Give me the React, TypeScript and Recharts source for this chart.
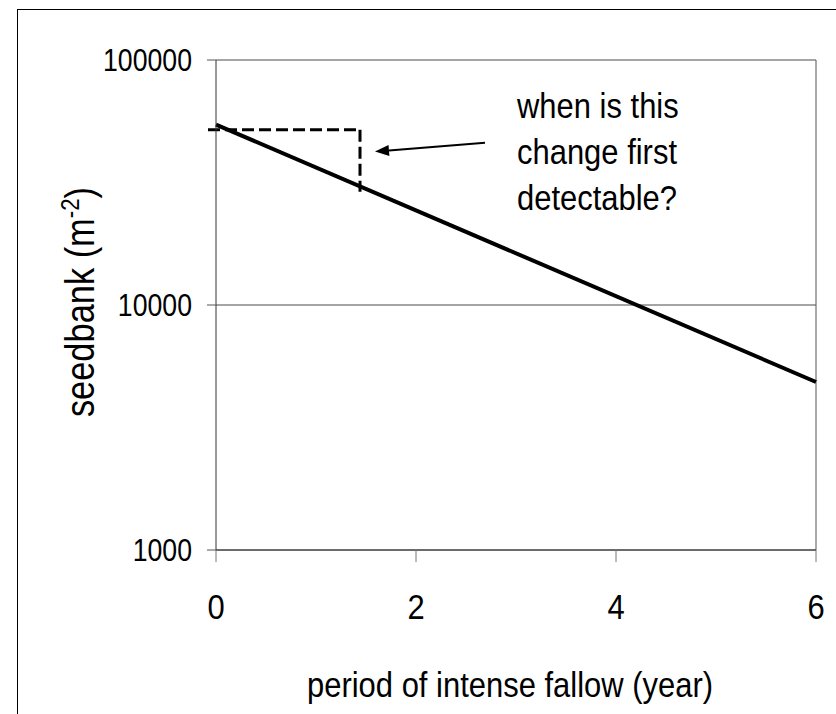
import React from "react";
import { LineChart, Line, XAxis, YAxis, CartesianGrid, ReferenceLine } from "recharts";

const years = [0, 6];
const seedbank = [54500, 4850];
const xTicks = [0, 2, 4, 6];
const yTicks = [1000, 10000, 100000];
const noteLines = ["when is this", "change first", "detectable?"];

// dashed guide: starting level carried across to the detection year, then down
const boxStartYear = -0.08;
const boxYear = 1.44;
const boxLevel = 51900;
const boxBottom = 29000;

// arrow from the note to the dashed guide
const arrowFromYear = 2.69;
const arrowFromValue = 45900;
const arrowToYear = 1.59;
const arrowToValue = 42300;

const data = years.map((x, i) => ({ x, y: seedbank[i] }));

const FONT = '"Liberation Sans", Arial, sans-serif';
// the original lettering is a horizontally squeezed Arial
const SQUEEZE = 0.86;

function Squeezed({
  x,
  y,
  size,
  anchor = "start",
  dy,
  rotate = 0,
  children,
}: {
  x: number;
  y: number;
  size: number;
  anchor?: string;
  dy?: string;
  rotate?: number;
  children: React.ReactNode;
}) {
  const rot = rotate ? ` rotate(${rotate})` : "";
  return (
    <text
      transform={`translate(${x},${y})${rot} scale(${SQUEEZE},1)`}
      textAnchor={anchor}
      dy={dy}
      fontSize={size}
      fontFamily={FONT}
      fill="#000"
    >
      {children}
    </text>
  );
}

function XTick(props: any) {
  const { x, y, payload } = props;
  return (
    <Squeezed x={x} y={y} size={36} anchor="middle" dy="0.71em">
      {payload.value}
    </Squeezed>
  );
}

function YTick(props: any) {
  const { x, y, payload } = props;
  return (
    <Squeezed x={x} y={y} size={31} anchor="end" dy="0.355em">
      {payload.value}
    </Squeezed>
  );
}

function Arrow(p: any) {
  const { x1, y1, x2, y2 } = p;
  const ang = Math.atan2(y2 - y1, x2 - x1);
  const len = 14;
  const half = 5.5;
  const bx = x2 - len * Math.cos(ang);
  const by = y2 - len * Math.sin(ang);
  const nx = -Math.sin(ang) * half;
  const ny = Math.cos(ang) * half;
  return (
    <g>
      <line x1={x1} y1={y1} x2={bx} y2={by} stroke="#000" strokeWidth={2} />
      <polygon points={`${x2},${y2} ${bx + nx},${by + ny} ${bx - nx},${by - ny}`} fill="#000" />
    </g>
  );
}

function YTitle() {
  return (
    <Squeezed x={94} y={302} size={40} anchor="middle" rotate={-90}>
      seedbank (m
      <tspan dy={-15} fontSize={26}>-2</tspan>
      <tspan dy={15}>)</tspan>
    </Squeezed>
  );
}

function XTitle(props: any) {
  const vb = props.viewBox || {};
  return (
    <Squeezed x={vb.x + vb.width / 2 - 6} y={697} size={36} anchor="middle">
      period of intense fallow (year)
    </Squeezed>
  );
}

export default function App() {
  return (
    <div
      style={{
        position: "absolute",
        left: 0,
        top: 0,
        width: 836,
        height: 714,
        overflow: "hidden",
        background: "#fff",
      }}
    >
      <div
        style={{
          position: "absolute",
          left: 17,
          top: 9,
          width: 900,
          height: 800,
          borderLeft: "1.5px solid #000",
          borderTop: "1.5px solid #000",
        }}
      />
      <LineChart
        width={836}
        height={714}
        data={data}
        margin={{ top: 60, right: 20, bottom: 0, left: 0 }}
        style={{ position: "absolute", left: 0, top: 0 }}
      >
        <CartesianGrid horizontal vertical={false} stroke="#4a4a4a" strokeWidth={1} />
        <XAxis
          dataKey="x"
          type="number"
          domain={[0, 6]}
          ticks={xTicks}
          height={164}
          tickSize={12}
          tickMargin={31}
          axisLine={{ stroke: "#333" }}
          tickLine={{ stroke: "#777" }}
          tick={<XTick />}
          label={<XTitle />}
        />
        <YAxis
          dataKey="y"
          type="number"
          scale="log"
          domain={[1000, 100000]}
          ticks={yTicks}
          allowDataOverflow
          width={216}
          tickSize={9}
          tickMargin={15}
          axisLine={{ stroke: "#333" }}
          tickLine={{ stroke: "#555" }}
          tick={<YTick />}
          label={<YTitle />}
        />
        <ReferenceLine x={6} stroke="#555" />
        <ReferenceLine
          segment={[
            { x: boxStartYear, y: boxLevel },
            { x: boxYear, y: boxLevel },
          ]}
          ifOverflow="visible"
          stroke="#000"
          strokeWidth={3}
          strokeDasharray="12 5"
        />
        <ReferenceLine
          segment={[
            { x: boxYear, y: boxLevel },
            { x: boxYear, y: boxBottom },
          ]}
          ifOverflow="visible"
          stroke="#000"
          strokeWidth={3}
          strokeDasharray="12 5"
        />
        <ReferenceLine
          segment={[
            { x: arrowFromYear, y: arrowFromValue },
            { x: arrowToYear, y: arrowToValue },
          ]}
          ifOverflow="visible"
          shape={Arrow}
        />
        <Line
          dataKey="y"
          stroke="#000"
          strokeWidth={4}
          dot={false}
          isAnimationActive={false}
        />
      </LineChart>
      <svg
        width={836}
        height={714}
        style={{ position: "absolute", left: 0, top: 0, pointerEvents: "none" }}
      >
        {noteLines.map((t, i) => (
          <Squeezed key={t} x={517} y={118 + i * 46} size={36}>
            {t}
          </Squeezed>
        ))}
      </svg>
    </div>
  );
}
